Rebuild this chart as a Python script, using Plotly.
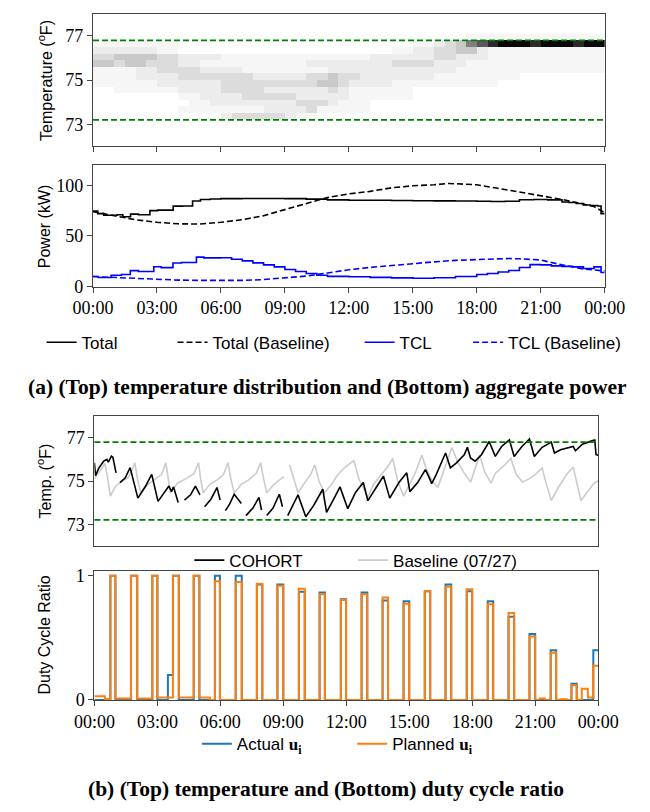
import plotly.graph_objects as go

# ---------------- data ----------------
HOUR_TICKS = [0, 3, 6, 9, 12, 15, 18, 21, 24]
HOUR_LABELS = ["00:00", "03:00", "06:00", "09:00", "12:00", "15:00", "18:00", "21:00", "00:00"]
COMFORT_BAND = [73.2, 76.8]

# temperature-distribution heatmap: intensity 0..9, rows from 73.2F upward in 0.3F bins,
# columns are 30-minute bins from 00:00
HEAT_ROW_LOW = 73.2
HEAT_ROW_STEP = 0.3
HEAT_COL_STEP = 0.5
HEAT_ROWS = [
    "000000000000233333211000000000000000000000000000",  # 73.2-73.5
    "000000001111111122223111110000000000000000000000",  # 73.5-73.8
    "000000000112222222233321110000000000000000000000",  # 73.8-74.1
    "000000001122223333322222111111000000000000000000",  # 74.1-74.4
    "001111112222333322222232111111000000000000000000",  # 74.4-74.7
    "111111222222333333333443222211111111110000000000",  # 74.7-75.0
    "111122223333333222223343322222221111111100000000",  # 75.0-75.3
    "111122333322221111111122222222222211111111111111",  # 75.3-75.6
    "443443332211111111112222222233332221111111111111",  # 75.6-75.9
    "334444332222111111111111112222223322211111111111",  # 75.9-76.2
    "222222110000000000000000000011223344211111111111",  # 76.2-76.5
    "111111110000000000000000000000112346789998999899",  # 76.5-76.8
    "000000000000000000000000000000000001111111111111",  # 76.8-77.1
]

TOTAL_HOURS = [0, 0.22, 0.5, 1.13, 1.4, 1.76, 2.13, 2.67, 3.04, 3.76, 4.2, 4.67, 5.04, 5.5, 6.0,
               7.0, 8.0, 9.0, 10.0, 11.0, 12.0, 13.0, 14.0, 15.0, 16.0, 17.0, 18.0, 18.67,
               19.33, 20.0, 20.67, 21.33, 22.0, 22.33, 22.67, 23.0, 23.33, 23.67, 23.83, 24.0]
TOTAL_KW = [74.5, 72.0, 70.5, 71.0, 69.0, 71.6, 71.0, 75.0, 75.5, 79.4, 79.6, 84.5, 86.0, 86.5, 86.8,
            87.0, 87.0, 86.8, 86.3, 85.6, 85.3, 85.2, 85.0, 84.8, 84.6, 84.5, 84.2, 84.0,
            84.3, 85.8, 86.0, 85.6, 83.5, 83.0, 82.0, 80.5, 80.0, 79.5, 72.0, 72.0]

BASE_TOTAL_HOURS = [0, 1, 2, 3, 4, 5, 6, 7, 8, 9, 10, 10.5, 11, 12, 13, 14, 15, 16, 16.7, 17, 18,
                    19, 20, 21, 22, 23, 23.5, 24]
BASE_TOTAL_KW = [74, 70, 66, 63.5, 62, 61.8, 63.5, 66, 70, 76, 82, 85.5, 88, 91.5, 94, 97.5, 99.5,
                 100.5, 101.8, 101.5, 100.5, 97, 93.5, 89.5, 86, 81.5, 79, 73]

TCL_HOURS = [0, 0.25, 0.85, 1.33, 1.75, 2.13, 2.85, 3.2, 3.75, 4.15, 4.85, 5.2, 6.0, 6.5, 7.0,
             7.5, 8.0, 8.5, 9.0, 9.5, 10.0, 10.5, 11.0, 12.0, 13.0, 14.0, 15.0, 16.0, 17.0,
             18.0, 18.5, 19.0, 19.5, 20.0, 20.5, 21.0, 21.5, 22.0, 22.5, 23.0, 23.5, 23.83, 24.0]
TCL_KW = [10, 9, 11.3, 12, 15.8, 15, 19.7, 18.8, 23.3, 23.9, 29.2, 28.4, 28.5, 27, 25.5,
          23.5, 21.5, 19.5, 17, 15, 13, 11.3, 10.2, 9.8, 9.2, 8.7, 8.4, 8.8, 10,
          12, 13, 14.5, 16, 19, 21.8, 21.5, 20.5, 20, 19.5, 18, 19.5, 14, 14]

BASE_TCL_HOURS = [0, 1, 2, 3, 4, 5, 6, 7, 8, 9, 10, 11, 12, 13, 14, 15, 16, 17, 18, 19, 19.5, 20,
                  21, 22, 23, 24]
BASE_TCL_KW = [10, 9, 8, 7, 6.5, 6.2, 6, 6.2, 7, 8.4, 10.5, 13.5, 16.7, 19, 21, 22.7, 24.5, 26,
               27, 27.6, 27.8, 27.5, 26.3, 21.5, 17.5, 15.5]

COHORT_HOURS = [0, 0.05, 0.21, 0.44, 0.59, 0.66, 0.81, 0.88, 1.03, None,
                1.22, 1.47, 1.70, 2.07, 2.44, 2.73, 3.03, 3.33, 3.55, 3.67, 3.77, 3.99, None,
                4.29, 4.58, 4.81, 5.03, None,
                5.25, 5.55, 5.84, 5.99, None,
                6.24, 6.44, 6.66, 7.0, None,
                7.22, 7.55, 7.84, 7.96, None,
                8.21, 8.51, 8.81, 8.96, None,
                9.21, 9.45, 9.70, 10.07, 10.44, 10.88, 11.06, 11.40, 11.70, 12.07, 12.44, 12.81,
                13.03, 13.47, 13.77, 14.07, 14.51, 14.88, 15.03, 15.40, 15.77, 15.92, 16.07,
                16.29, 16.73, 16.96, 17.25, 17.62, 17.77, 17.92, 18.14, 18.44, 18.81, 19.10,
                19.40, 19.77, 20.0, 20.37, 20.73, 20.96, 21.33, 21.77, 21.92, 22.21, 22.81,
                22.92, 23.25, 23.7, 23.84, 23.9, 24.0]
COHORT_TEMP = [75.85, 75.25, 75.6, 75.92, 76.0, 75.88, 76.15, 76.1, 75.38, None,
               74.93, 75.15, 75.62, 74.21, 74.77, 75.31, 74.06, 74.47, 74.77, 74.51, 74.73, 74.01, None,
               74.12, 74.36, 74.77, 74.36, None,
               73.81, 74.16, 74.70, 74.12, None,
               73.63, 73.93, 74.39, 73.96, None,
               73.40, 73.75, 74.24, 73.66, None,
               73.40, 73.75, 74.39, 73.81, None,
               73.40, 73.85, 74.36, 73.35, 73.86, 74.62, 73.55, 74.16, 74.73, 73.72, 74.47, 74.93,
               74.09, 74.77, 75.23, 74.21, 74.93, 75.38, 74.51, 74.93, 75.53, 75.23, 74.88,
               75.31, 76.30, 75.61, 75.84, 76.22, 76.56, 76.07, 75.92, 76.22, 76.83, 76.14,
               76.60, 76.91, 76.14, 76.60, 76.95, 76.14, 76.56, 76.80, 76.30, 76.45, 76.60,
               76.40, 76.71, 76.86, 76.90, 76.22, 76.20]

BASELINE_HOURS = [0, 0.25, 0.5, 0.6, 0.76, 1.0, 1.3, 1.6, 1.8, 1.92, 2.05, 2.21, 2.5, 2.85, 3.2,
                  3.4, 3.5, 3.62, 3.95, 4.35, 4.75, 4.96, 5.06, 5.18, 5.5, 5.85, 6.15, 6.36, 6.5,
                  6.66, 7.0, 7.35, 7.7, 7.92, 8.06, 8.21, 8.55, 9.03, None,
                  9.3, 9.5, 9.7, 10.0, 10.3, 10.5, 10.7, 10.95, 11.3, 11.6, 11.95, 12.15, 12.36,
                  12.6, 13.03, 13.3, 13.7, 14.0, 14.21, 14.45, 14.73, 15.0, 15.3, 15.6, 15.8,
                  16.1, 16.36, 16.6, 16.8, 17.03, 17.3, 17.6, 17.92, 18.1, 18.36, 18.6, 18.9,
                  19.1, 19.5, 19.84, 20.1, 20.4, 20.7, 21.0, 21.33, 21.55, 21.77, 22.1, 22.5,
                  22.81, 23.0, 23.18, 23.5, 23.8, 24.0]
BASELINE_TEMP = [75.1, 75.45, 75.8, 75.3, 74.3, 74.75, 75.0, 75.15, 75.5, 75.85, 75.1, 74.45, 74.8,
                 75.05, 75.3, 75.85, 75.1, 74.45, 74.9, 75.1, 75.35, 75.85, 75.1, 74.45, 74.85,
                 75.05, 75.3, 75.85, 75.1, 74.45, 74.85, 75.05, 75.35, 75.85, 75.1, 74.45, 74.85,
                 75.2, None,
                 75.75, 75.1, 74.45, 74.9, 75.3, 75.75, 75.0, 74.45, 74.85, 75.3, 75.65, 75.8,
                 75.95, 75.1, 74.25, 74.85, 75.35, 75.7, 76.05, 75.0, 74.3, 74.85, 75.4, 76.2,
                 75.6, 75.0, 74.7, 75.35, 75.95, 76.55, 75.9, 75.4, 74.95, 75.45, 76.2, 75.4,
                 74.9, 75.35, 75.7, 76.05, 75.3, 74.95, 75.1, 75.3, 75.6, 74.8, 74.1, 74.7,
                 75.3, 75.65, 74.8, 74.1, 74.5, 74.9, 75.0]

DUTY_HOURS = [0.0, 0.5, 0.76, 1.0, 1.74, 2.04, 2.76, 3.0, 3.5, 3.74, 4.02, 4.73, 5.0, 5.5, 5.74,
              5.98, 6.73, 7.02, 7.74, 8.0, 8.72, 9.0, 9.74, 10.02, 10.73, 10.98, 11.74, 11.99,
              12.73, 13.0, 13.73, 13.99, 14.73, 15.0, 15.74, 16.0, 16.73, 17.0, 17.74, 18.0,
              18.74, 19.0, 19.73, 20.0, 20.73, 21.0, 21.22, 21.47, 21.74, 22.0, 22.21, 22.5,
              22.73, 22.98, 23.22, 23.51, 23.77, 24.0]
ACTUAL_U = [0, 0, 1.0, 0, 1.0, 0, 1.0, 0, 0.2, 1.0, 0, 1.0, 0, 0, 1.0,
            0, 1.0, 0, 0.93, 0, 0.93, 0, 0.87, 0, 0.865, 0, 0.81, 0,
            0.865, 0, 0.80, 0, 0.795, 0, 0.875, 0, 0.93, 0, 0.875, 0,
            0.795, 0, 0.67, 0, 0.53, 0, 0, 0, 0.40, 0, 0, 0,
            0.13, 0, 0, 0, 0.40, 0.40]
PLANNED_U = [0.03, 0.008, 1.0, 0.012, 1.0, 0.012, 1.0, 0.02, 0.02, 1.0, 0.02, 1.0, 0.02, 0, 0.955,
             0, 0.95, 0, 0.935, 0, 0.92, 0, 0.895, 0, 0.85, 0, 0.805, 0,
             0.85, 0, 0.825, 0, 0.775, 0, 0.875, 0, 0.91, 0, 0.89, 0,
             0.77, 0, 0.70, 0, 0.51, 0, 0.012, 0, 0.38, 0, 0.006, 0,
             0.118, 0, 0.09, 0.02, 0.275, 0.275]

# ---------------- styling ----------------
W, H = 650, 812
SERIF = "Liberation Serif"
SANS = "Liberation Sans"
FRAME = "#444444"


def px_x(p):
    return p / W


def px_y(p):
    return 1 - p / H


fig = go.Figure()

# heatmap
heat_z = [[int(ch) for ch in row] for row in HEAT_ROWS]
heat_x = [HEAT_COL_STEP * (i + 0.5) for i in range(len(HEAT_ROWS[0]))]
heat_y = [HEAT_ROW_LOW + HEAT_ROW_STEP * (r + 0.5) for r in range(len(HEAT_ROWS))]
greys = [[0.0, "#ffffff"], [1 / 9, "#f6f6f6"], [2 / 9, "#ececec"], [3 / 9, "#dcdcdc"],
         [4 / 9, "#c9c9c9"], [5 / 9, "#a8a8a8"], [6 / 9, "#808080"], [7 / 9, "#585858"],
         [8 / 9, "#2a2a2a"], [1.0, "#080808"]]
fig.add_trace(go.Heatmap(x=heat_x, y=heat_y, z=heat_z, colorscale=greys, zmin=0, zmax=9,
                         showscale=False, xaxis="x", yaxis="y", hoverinfo="skip"))

dash = "6px,3px"
fig.add_trace(go.Scatter(x=TOTAL_HOURS, y=TOTAL_KW, mode="lines", name="Total",
                         line=dict(color="black", width=1.6, shape="hv"),
                         xaxis="x2", yaxis="y2", legend="legend"))
fig.add_trace(go.Scatter(x=BASE_TOTAL_HOURS, y=BASE_TOTAL_KW, mode="lines", name="Total (Baseline)",
                         line=dict(color="black", width=1.6, dash=dash),
                         xaxis="x2", yaxis="y2", legend="legend2"))
fig.add_trace(go.Scatter(x=TCL_HOURS, y=TCL_KW, mode="lines", name="TCL",
                         line=dict(color="#0000ff", width=1.6, shape="hv"),
                         xaxis="x2", yaxis="y2", legend="legend3"))
fig.add_trace(go.Scatter(x=BASE_TCL_HOURS, y=BASE_TCL_KW, mode="lines", name="TCL (Baseline)",
                         line=dict(color="#0000ff", width=1.6, dash=dash),
                         xaxis="x2", yaxis="y2", legend="legend4"))

fig.add_trace(go.Scatter(x=BASELINE_HOURS, y=BASELINE_TEMP, mode="lines", name="Baseline (07/27)",
                         line=dict(color="#cccccc", width=1.6), connectgaps=False,
                         xaxis="x3", yaxis="y3", legend="legend6"))
fig.add_trace(go.Scatter(x=COHORT_HOURS, y=COHORT_TEMP, mode="lines", name="COHORT",
                         line=dict(color="black", width=1.6), connectgaps=False,
                         xaxis="x3", yaxis="y3", legend="legend5"))

u_lbl = "<span style='font-family:Liberation Serif'><b>u</b><sub><b>i</b></sub></span>"
fig.add_trace(go.Scatter(x=DUTY_HOURS, y=ACTUAL_U, mode="lines", name="Actual " + u_lbl,
                         line=dict(color="#1f77b4", width=2, shape="hv"),
                         xaxis="x4", yaxis="y4", legend="legend7"))
fig.add_trace(go.Scatter(x=DUTY_HOURS, y=PLANNED_U, mode="lines", name="Planned " + u_lbl,
                         line=dict(color="#ff7f0e", width=2, shape="hv"),
                         xaxis="x4", yaxis="y4", legend="legend8"))

# axes
top_dom = [px_x(77), px_x(624)]
bot_dom = [px_x(78.5), px_x(617)]
tickfont = dict(family=SERIF, size=18, color="black")


def xax(dom, anchor, labels, ticks=True):
    return dict(domain=dom, anchor=anchor, range=[0, 24], tickvals=HOUR_TICKS,
                ticktext=HOUR_LABELS, showticklabels=labels, ticks="outside" if ticks else "",
                ticklen=5, tickcolor=FRAME, showline=True, linecolor=FRAME, linewidth=1.2,
                mirror=True, showgrid=False, zeroline=False, tickfont=tickfont, fixedrange=True)


def yax(dom, anchor, rng, tv):
    return dict(domain=dom, anchor=anchor, range=rng, tickvals=tv, ticks="outside", ticklen=5,
                tickcolor=FRAME, showline=True, linecolor=FRAME, linewidth=1.2, mirror=True,
                showgrid=False, zeroline=False, tickfont=tickfont, fixedrange=True)


fig.update_layout(
    xaxis=xax(top_dom, "y", False),
    yaxis=yax([px_y(144), px_y(9)], "x", [72, 78], [73, 75, 77]),
    xaxis2=xax(top_dom, "y2", True),
    yaxis2=yax([px_y(287), px_y(163)], "x2", [0, 120], [0, 50, 100]),
    xaxis3=xax(bot_dom, "y3", False, ticks=False),
    yaxis3=yax([px_y(551), px_y(419)], "x3", [72, 78], [73, 75, 77]),
    xaxis4=xax(bot_dom, "y4", True),
    yaxis4=yax([px_y(708), px_y(577)], "x4", [0, 1.035], [0, 1]),
)

# comfort band lines
for ax_x, ax_y in (("x", "y"), ("x3", "y3")):
    for lvl in COMFORT_BAND:
        fig.add_shape(type="line", xref=ax_x + " domain", yref=ax_y, x0=0, x1=1, y0=lvl, y1=lvl,
                      line=dict(color="#008000", width=1.6, dash="6px,3px"))

# legends (one entry each, positioned like the reference)
legend_specs = {
    "legend": (22, 344), "legend2": (162, 344), "legend3": (362, 344),
    "legend4": (478, 344), "legend5": (180, 566), "legend6": (355, 566),
    "legend7": (188, 753), "legend8": (354, 753),
}
for key, (lx, ly) in legend_specs.items():
    fig.update_layout({key: dict(x=px_x(lx), y=px_y(ly), xanchor="left", yanchor="middle",
                                 orientation="h", bgcolor="rgba(0,0,0,0)", borderwidth=0,
                                 font=dict(family=SANS, size=17, color="black"))})

# axis titles
titles = [
    ("Temperature (<sup>o</sup>F)", 77), ("Power (kW)", 225),
    ("Temp. (<sup>o</sup>F)", 485), ("Duty Cycle Ratio", 642),
]
for txt, yc in titles:
    fig.add_annotation(text=txt, x=px_x(25), y=px_y(yc), xref="paper", yref="paper",
                       showarrow=False, textangle=-90, xanchor="center", yanchor="middle",
                       font=dict(family=SANS, size=16, color="black"))

# captions
fig.add_annotation(text="<b>(a) (Top) temperature distribution and (Bottom) aggregate power</b>",
                   x=px_x(328), y=px_y(389), xref="paper", yref="paper", showarrow=False,
                   xanchor="center", yanchor="middle",
                   font=dict(family=SERIF, size=21.5, color="black"))
fig.add_annotation(text="<b>(b) (Top) temperature and (Bottom) duty cycle ratio</b>",
                   x=px_x(326), y=px_y(799), xref="paper", yref="paper", showarrow=False,
                   xanchor="center", yanchor="middle",
                   font=dict(family=SERIF, size=21.5, color="black"))

fig.update_layout(width=W, height=H, margin=dict(l=0, r=0, t=0, b=0),
                  paper_bgcolor="white", plot_bgcolor="white", showlegend=True,
                  hovermode=False)

fig.write_html("out.html", config={"displayModeBar": False},
               post_script="document.body.style.margin='0px';")
